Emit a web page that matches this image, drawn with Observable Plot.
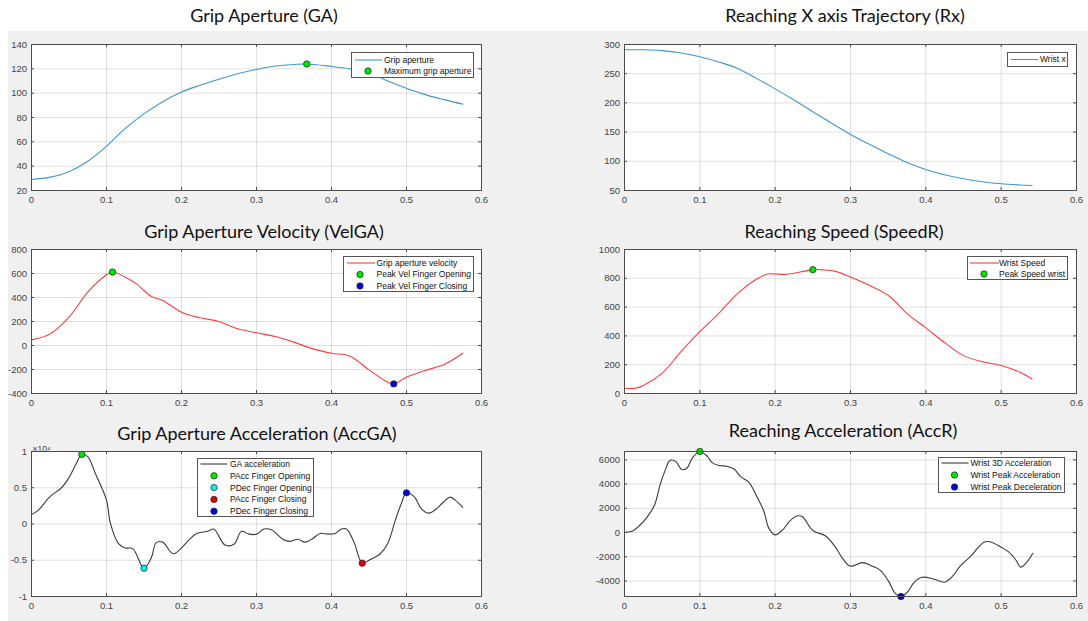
<!DOCTYPE html>
<html><head><meta charset="utf-8">
<script src="https://cdn.jsdelivr.net/npm/d3@7"></script>
<script src="https://cdn.jsdelivr.net/npm/@observablehq/plot@0.6"></script>
<style>
body{margin:0;width:1088px;height:621px;background:#fff;position:relative;overflow:hidden;font-family:"Liberation Sans",Arial,sans-serif;}
#bg{position:absolute;left:8px;top:31px;width:1080px;height:590px;background:#f0f0f0;}
.title{position:absolute;font-family:Lato,"Open Sans",sans-serif;font-size:18px;line-height:18px;color:#111;white-space:nowrap;transform:translateX(-50%);}
.panel{position:absolute;}
.legend{position:absolute;}
</style></head><body>
<div id="bg"></div>
<script>
// ---------- data ----------
const xTicks = [0, 0.1, 0.2, 0.3, 0.4, 0.5, 0.6];

const titles = ["Grip Aperture (GA)", "Reaching X axis Trajectory (Rx)", "Grip Aperture Velocity (VelGA)",
  "Reaching Speed (SpeedR)", "Grip Aperture Acceleration (AccGA)", "Reaching Acceleration (AccR)"];

const gaTicks = [20, 40, 60, 80, 100, 120, 140];
const gaSeries = [[0,29],[0.025,31],[0.05,35.5],[0.075,44],[0.1,56.5],[0.125,71],[0.15,83],[0.175,93],[0.2,101],
  [0.225,106.5],[0.25,111.4],[0.275,116],[0.3,119.5],[0.325,122.3],[0.35,123.6],[0.367,124],[0.4,122],[0.425,120],
  [0.45,117],[0.475,110],[0.5,104],[0.525,98.8],[0.55,94.7],[0.575,91]];
const gaMarkers = [{label: "Maximum grip aperture", x: 0.367, y: 124}];

const rxTicks = [50, 100, 150, 200, 250, 300];
const rxSeries = [[0,291],[0.025,291],[0.05,289.5],[0.075,285.5],[0.1,279],[0.125,270],[0.15,259],[0.175,242],
  [0.2,224],[0.225,205],[0.25,185],[0.275,165],[0.3,146],[0.325,129],[0.35,113],[0.375,98],[0.4,86],[0.425,77],
  [0.45,70],[0.475,65],[0.5,61.5],[0.525,59.5],[0.541,58.6]];

const velTicks = [-400, -200, 0, 200, 400, 600, 800];
const velSeries = [[0,47],[0.025,97],[0.05,236],[0.075,444],[0.1,589],[0.108,612],[0.125,569],[0.14,514],[0.15,458],
  [0.16,408],[0.175,375],[0.2,278],[0.225,231],[0.25,200],[0.275,139],[0.3,106],[0.325,75],[0.35,28],[0.375,-28],
  [0.4,-64],[0.425,-89],[0.45,-203],[0.475,-306],[0.483,-320],[0.5,-264],[0.525,-208],[0.55,-158],[0.575,-64]];
const velMarkers = [{label: "Peak Vel Finger Opening", x: 0.108, y: 612}, {label: "Peak Vel Finger Closing", x: 0.483, y: -320}];

const speedTicks = [0, 200, 400, 600, 800, 1000];
const speedSeries = [[0,35],[0.015,37],[0.025,55],[0.05,141],[0.075,290],[0.1,429],[0.125,555],[0.15,694],[0.175,793],
  [0.19,830],[0.2,830],[0.215,828],[0.235,845],[0.25,860],[0.265,858],[0.28,848],[0.3,809],[0.325,751],[0.35,682],
  [0.375,555],[0.4,456],[0.425,353],[0.45,263],[0.475,221],[0.5,194],[0.525,147],[0.541,101]];
const speedMarkers = [{label: "Peak Speed wrist", x: 0.25, y: 860}];

// GA acceleration, in units of 10^4
const accGATicks = [-1, -0.5, 0, 0.5, 1];
const accGASeries = [[0,0.13],[0.008,0.18],[0.025,0.38],[0.04,0.5],[0.05,0.64],[0.06,0.84],[0.067,0.96],[0.075,0.93],
  [0.085,0.7],[0.1,0.33],[0.105,0.02],[0.116,-0.27],[0.125,-0.33],[0.135,-0.34],[0.15,-0.61],[0.16,-0.46],[0.166,-0.26],
  [0.175,-0.25],[0.185,-0.38],[0.19,-0.41],[0.2,-0.33],[0.21,-0.22],[0.22,-0.13],[0.235,-0.1],[0.243,-0.07],[0.258,-0.29],
  [0.27,-0.28],[0.28,-0.1],[0.29,-0.14],[0.3,-0.14],[0.31,-0.07],[0.32,-0.08],[0.335,-0.21],[0.345,-0.24],[0.355,-0.21],
  [0.365,-0.25],[0.375,-0.2],[0.385,-0.13],[0.395,-0.14],[0.405,-0.13],[0.413,-0.07],[0.42,-0.07],[0.43,-0.25],[0.441,-0.54],
  [0.45,-0.5],[0.465,-0.41],[0.475,-0.27],[0.485,0.05],[0.493,0.28],[0.5,0.43],[0.51,0.38],[0.52,0.21],[0.53,0.15],
  [0.54,0.21],[0.548,0.29],[0.558,0.37],[0.565,0.33],[0.575,0.23]];
const accGAMarkers = [{label: "PAcc Finger Opening", x: 0.067, y: 0.96}, {label: "PDec Finger Opening", x: 0.15, y: -0.61},
  {label: "PAcc Finger Closing", x: 0.441, y: -0.54}, {label: "PDec Finger Closing", x: 0.5, y: 0.43}];

const accRTicks = [-4000, -2000, 0, 2000, 4000, 6000];
const accRSeries = [[0,30],[0.01,110],[0.02,580],[0.03,1270],[0.04,2300],[0.0475,4000],[0.055,5300],[0.06,5950],
  [0.068,5870],[0.076,5200],[0.083,5330],[0.09,6150],[0.1,6690],[0.11,6280],[0.116,5790],[0.125,5540],[0.135,5480],
  [0.145,5260],[0.155,4570],[0.165,4160],[0.175,3060],[0.185,1760],[0.192,300],[0.2,-190],[0.21,220],[0.22,990],
  [0.23,1380],[0.236,1320],[0.25,165],[0.267,-280],[0.28,-1210],[0.29,-2180],[0.3,-2780],[0.316,-2480],[0.33,-2810],
  [0.34,-3140],[0.35,-3970],[0.36,-5070],[0.367,-5280],[0.375,-4960],[0.385,-4080],[0.395,-3690],[0.41,-3830],
  [0.425,-4100],[0.435,-3640],[0.445,-2810],[0.46,-1930],[0.47,-1210],[0.477,-800],[0.485,-760],[0.5,-1210],
  [0.51,-1600],[0.52,-2310],[0.526,-2860],[0.535,-2370],[0.542,-1710]];
const accRMarkers = [{label: "Wrist Peak Acceleration", x: 0.1, y: 6690}, {label: "Wrist Peak Deceleration", x: 0.367, y: -5280}];

const lineLabels = ["Grip aperture", "Wrist x", "Grip aperture velocity", "Wrist Speed", "GA acceleration", "Wrist 3D Acceleration"];

// ---------- styles ----------
const BLUE = "#3d97d3", RED = "#ff3c3c", BLACK = "#3a3a3a";
const markerFill = {
  "Maximum grip aperture": "#00e600", "Peak Vel Finger Opening": "#00e600", "Peak Vel Finger Closing": "#0000e6",
  "Peak Speed wrist": "#00e600", "PAcc Finger Opening": "#00e600", "PDec Finger Opening": "#00f0f0",
  "PAcc Finger Closing": "#e00000", "PDec Finger Closing": "#0000e6",
  "Wrist Peak Acceleration": "#00e600", "Wrist Peak Deceleration": "#0000e6"
};
const AX = "#4d4d4d";

function panel(cfg) {
  const {left, top, width, height, mt, mb, ml, mr, yDomain, yTicks, yFmt, series, color, markers, extra} = cfg;
  const fw = width - ml - mr, fh = height - mt - mb;
  const plot = Plot.plot({
    width, height, marginTop: mt, marginBottom: mb, marginLeft: ml, marginRight: mr,
    style: {background: "transparent", fontFamily: "'Liberation Sans', Arial, sans-serif", fontSize: "9.5px", color: "#444", overflow: "visible"},
    x: {domain: [0, 0.6], label: null},
    y: {domain: yDomain, label: null},
    marks: [
      Plot.frame({fill: "white", stroke: null}),
      Plot.gridX(xTicks, {stroke: "#000", strokeOpacity: 0.12}),
      Plot.gridY(yTicks, {stroke: "#000", strokeOpacity: 0.12}),
      Plot.tickX(xTicks, {x: d => d, insetTop: fh - 3, stroke: AX}),
      Plot.tickX(xTicks, {x: d => d, insetBottom: fh - 3, stroke: AX}),
      Plot.tickY(yTicks, {y: d => d, insetRight: fw - 3, stroke: AX}),
      Plot.tickY(yTicks, {y: d => d, insetLeft: fw - 3, stroke: AX}),
      Plot.axisX(xTicks, {anchor: "bottom", label: null, tickSize: 0, tickPadding: 6, tickFormat: d => String(d), fill: "#444"}),
      Plot.axisY(yTicks, {anchor: "left", label: null, tickSize: 0, tickPadding: 4.5, tickFormat: yFmt || (d => String(d)), fill: "#444"}),
      Plot.line(series, {x: d => d[0], y: d => d[1], stroke: color, strokeWidth: 1.1, curve: "catmull-rom"}),
      markers ? Plot.dot(markers, {x: "x", y: "y", r: 3.2, fill: d => markerFill[d.label], stroke: "#222", strokeWidth: 0.7}) : null,
      Plot.frame({stroke: AX, strokeWidth: 1}),
      ...(extra || [])
    ],
    color: {type: "identity"}
  });
  plot.classList.add("panel");
  plot.style.left = left + "px";
  plot.style.top = top + "px";
  plot.style.position = "absolute";
  document.body.appendChild(plot);
}

function title(text, cx, baseline) {
  const d = document.createElement("div");
  d.className = "title";
  d.textContent = text;
  d.style.left = cx + "px";
  d.style.top = (baseline - 14.5) + "px";
  document.body.appendChild(d);
}

function legend(left, top, w, h, rows, geo) {
  const svg = d3.create("svg").attr("class", "legend").attr("width", w).attr("height", h)
    .style("left", left + "px").style("top", top + "px").style("position", "absolute");
  svg.append("rect").attr("x", 0.5).attr("y", 0.5).attr("width", w - 1).attr("height", h - 1)
    .attr("fill", "#fff").attr("stroke", "#555").attr("stroke-width", 1);
  rows.forEach((r, i) => {
    const y = geo.ys[i];
    if (r.kind === "line") {
      svg.append("line").attr("x1", geo.l0).attr("x2", geo.l1).attr("y1", y).attr("y2", y)
        .attr("stroke", r.color).attr("stroke-width", 1.1);
    } else {
      svg.append("circle").attr("cx", geo.mx).attr("cy", y).attr("r", 3.2)
        .attr("fill", r.color).attr("stroke", "#222").attr("stroke-width", 0.7);
    }
    svg.append("text").attr("x", geo.tx).attr("y", y).attr("dy", "0.35em")
      .attr("font-family", "'Liberation Sans', Arial, sans-serif").attr("font-size", 8.5)
      .attr("fill", "#111").text(r.label);
  });
  document.body.appendChild(svg.node());
}

const mk = arr => arr.map(m => ({kind: "dot", color: markerFill[m.label], label: m.label}));

// ---------- row 1 ----------
panel({left: 0, top: 31, width: 544, height: 180, mt: 13, mb: 21, ml: 31, mr: 63,
  yDomain: [20, 140], yTicks: gaTicks, series: gaSeries, color: BLUE, markers: gaMarkers});
panel({left: 544, top: 31, width: 544, height: 180, mt: 13, mb: 21, ml: 80, mr: 12,
  yDomain: [50, 300], yTicks: rxTicks, series: rxSeries, color: BLUE});
// ---------- row 2 ----------
panel({left: 0, top: 236, width: 544, height: 178, mt: 13, mb: 21, ml: 31, mr: 63,
  yDomain: [-400, 800], yTicks: velTicks, series: velSeries, color: RED, markers: velMarkers});
panel({left: 544, top: 236, width: 544, height: 178, mt: 13, mb: 21, ml: 80, mr: 12,
  yDomain: [0, 1000], yTicks: speedTicks, series: speedSeries, color: RED, markers: speedMarkers});
// ---------- row 3 ----------
panel({left: 0, top: 438, width: 544, height: 183, mt: 13, mb: 25, ml: 31, mr: 63,
  yDomain: [-1, 1], yTicks: accGATicks, series: accGASeries, color: BLACK, markers: accGAMarkers,
  extra: [Plot.text(["×10⁴"], {frameAnchor: "top-left", dy: -6, dx: 1, textAnchor: "start", fontSize: 8.5, fill: "#444"})]});
panel({left: 544, top: 438, width: 544, height: 183, mt: 13, mb: 25, ml: 80, mr: 12,
  yDomain: d3.extent(accRSeries, d => d[1]), yTicks: accRTicks, series: accRSeries, color: BLACK, markers: accRMarkers});

// ---------- titles ----------
title(titles[0], 264, 20);
title(titles[1], 845, 20);
title(titles[2], 264, 236);
title(titles[3], 844, 236);
title(titles[4], 257, 438);
title(titles[5], 843, 435);

// ---------- legends ----------
legend(351, 52, 123, 26, [{kind: "line", color: BLUE, label: lineLabels[0]}, ...mk(gaMarkers)],
  {ys: [8, 19], l0: 4, l1: 31, tx: 33, mx: 17});
legend(1007, 52, 61, 15, [{kind: "line", color: BLUE, label: lineLabels[1]}],
  {ys: [7.5], l0: 4, l1: 31, tx: 33, mx: 17});
legend(343, 256, 131, 36, [{kind: "line", color: RED, label: lineLabels[2]}, ...mk(velMarkers)],
  {ys: [7, 18.5, 30], l0: 4, l1: 32, tx: 33.5, mx: 17});
legend(967, 256, 101, 24, [{kind: "line", color: RED, label: lineLabels[3]}, ...mk(speedMarkers)],
  {ys: [7, 18], l0: 3, l1: 32, tx: 32, mx: 17});
legend(197, 458, 117, 59, [{kind: "line", color: BLACK, label: lineLabels[4]}, ...mk(accGAMarkers)],
  {ys: [6, 17.8, 29.6, 41.4, 53.2], l0: 3.5, l1: 30, tx: 33, mx: 17});
legend(938, 457, 127, 36, [{kind: "line", color: BLACK, label: lineLabels[5]}, ...mk(accRMarkers)],
  {ys: [6, 18, 30], l0: 3.5, l1: 30.5, tx: 32.5, mx: 16.5});
</script></body></html>
